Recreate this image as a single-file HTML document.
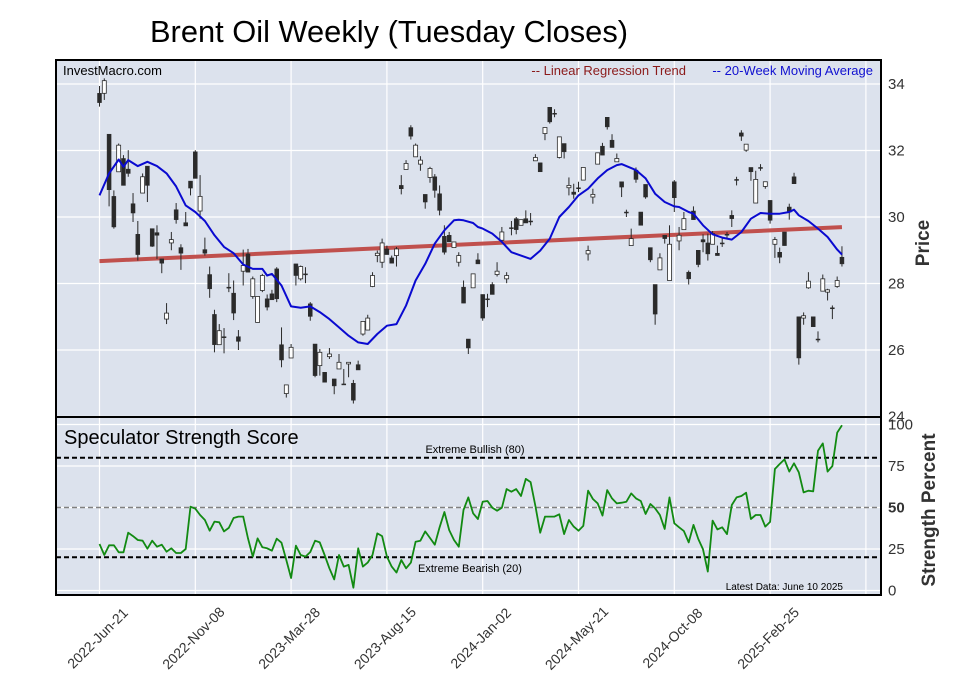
<!DOCTYPE html>
<html><head><meta charset="utf-8"><style>
html,body{margin:0;padding:0;background:#fff;}
svg{display:block;font-family:"Liberation Sans",Arial,sans-serif;}
</style></head><body>
<svg id="chart" width="957" height="694" viewBox="0 0 957 694" xmlns="http://www.w3.org/2000/svg">
<text x="389" y="42" font-size="31" text-anchor="middle" textLength="478" lengthAdjust="spacingAndGlyphs" fill="#000">Brent Oil Weekly (Tuesday Closes)</text>
<rect x="56" y="60" width="825" height="357" fill="#dce2ed"/>
<rect x="56" y="417" width="825" height="178" fill="#dce2ed"/>
<g id="grid"></g>
<g id="price"></g>
<g id="strength"></g>
<g id="axes"></g>
<text x="63" y="75" font-size="13" fill="#000">InvestMacro.com</text>
<text x="686" y="75" font-size="13" fill="#8b1a1a" text-anchor="end">-- Linear Regression Trend</text>
<text x="873" y="75" font-size="13" fill="#1010d0" text-anchor="end">-- 20-Week Moving Average</text>
<text x="64" y="444" font-size="20" fill="#000">Speculator Strength Score</text>
<text x="475" y="453" font-size="11" text-anchor="middle" fill="#000">Extreme Bullish (80)</text>
<text x="470" y="572" font-size="11" text-anchor="middle" fill="#000">Extreme Bearish (20)</text>
<text x="843" y="590" font-size="10" text-anchor="end" fill="#000">Latest Data: June 10 2025</text>
<text transform="translate(929,243) rotate(-90)" font-size="19" font-weight="bold" text-anchor="middle" fill="#333">Price</text>
<text transform="translate(935,510) rotate(-90)" font-size="19" font-weight="bold" text-anchor="middle" fill="#333">Strength Percent</text>
</svg>
<script>
const opens=[33.72,33.72,32.49,30.62,31.36,31.76,31.44,30.40,29.48,30.72,31.53,29.65,29.53,28.74,26.93,29.22,30.22,29.08,29.83,31.08,31.96,30.18,
29.02,28.27,27.07,26.16,26.40,27.89,27.71,26.40,28.37,28.89,27.61,26.83,27.79,27.54,
27.69,28.44,26.16,24.69,25.76,28.59,28.14,28.29,27.39,26.18,25.53,25.33,25.80,25.13,25.43,24.98,25.58,25.00,25.56,26.48,26.60,27.91,28.84,28.64,29.04,28.77,28.84,30.95,31.43,32.69,31.81,31.59,30.68,31.19,31.21,30.70,29.42,29.45,29.08,28.64,27.89,26.33,27.87,28.71,
27.67,27.54,27.97,28.27,29.30,28.14,29.68,29.95,29.75,29.95,29.88,31.69,31.63,32.51,33.30,33.12,31.79,32.21,30.88,30.75,30.88,31.11,28.89,30.60,31.59,32.13,33.00,32.31,31.66,31.06,30.15,29.14,31.41,30.15,30.98,29.08,27.97,28.41,29.45,28.09,31.06,29.28,29.62,28.34,
30.18,29.00,29.32,29.22,29.18,28.91,29.22,29.48,30.05,31.13,32.53,32.01,31.49,30.42,31.49,30.92,30.50,29.18,28.94,29.55,30.30,31.21,27.00,26.96,27.87,27.00,26.33,27.77,27.74,27.27,27.91,28.79];
const closes=[33.44,34.10,30.82,29.70,32.16,30.95,31.31,30.12,28.87,31.21,30.95,29.12,29.45,28.61,27.11,29.32,29.92,28.91,29.73,30.87,31.16,30.62,
28.91,27.84,26.16,26.58,26.40,27.87,27.11,26.26,28.54,28.34,28.14,27.61,28.24,27.29,
27.51,27.54,25.70,24.95,26.08,28.24,28.51,28.29,27.01,25.23,25.93,25.03,25.88,24.92,25.63,24.98,25.63,24.49,25.40,26.86,26.96,28.24,28.91,29.22,28.87,28.61,29.04,30.85,31.61,32.43,32.16,31.71,30.45,31.46,30.80,30.20,28.94,29.25,29.25,28.84,27.41,26.06,28.29,28.59,
26.96,27.54,27.67,28.37,29.55,28.24,29.68,29.62,29.92,29.82,29.88,31.79,31.36,32.69,32.86,33.12,32.41,31.96,30.95,30.68,30.88,31.49,28.99,30.68,31.93,31.86,32.71,32.09,31.76,30.90,30.15,29.35,31.13,29.75,30.60,28.71,27.08,28.77,29.35,29.18,30.58,29.45,29.95,28.14,
29.92,28.57,29.25,28.89,29.50,28.84,29.22,29.48,29.95,31.13,32.43,32.19,31.36,31.13,31.49,31.06,29.90,29.32,28.79,29.14,30.15,31.00,25.76,27.03,28.07,26.70,26.33,28.14,27.81,27.27,28.09,28.59];
const highs=[33.94,34.17,32.49,30.80,32.21,31.86,32.01,30.72,29.88,31.31,31.53,29.65,29.75,28.74,27.41,29.55,30.42,29.18,30.15,31.08,32.01,31.26,
29.38,28.51,27.21,26.78,26.66,28.31,28.09,26.60,29.02,29.04,28.21,27.61,28.29,27.67,
27.81,28.49,26.68,24.95,26.18,28.59,28.54,28.49,27.44,26.18,26.03,25.33,26.06,25.13,25.88,25.43,25.63,25.10,25.68,26.86,27.06,28.34,28.99,29.35,29.14,28.84,29.10,31.26,31.71,32.76,32.21,31.83,30.68,31.51,31.29,30.95,29.75,29.55,29.25,28.94,28.09,26.33,28.29,28.91,
27.67,27.69,28.04,28.64,29.70,28.34,29.88,30.00,29.92,30.20,30.12,31.89,31.63,32.69,33.30,33.24,32.41,32.21,31.19,31.00,31.06,31.49,29.14,30.85,31.93,32.23,33.00,32.49,31.91,31.06,30.22,29.65,31.49,30.15,30.98,29.08,27.97,28.91,29.45,29.75,31.11,29.70,30.15,28.39,
30.32,29.00,29.48,29.50,29.58,29.14,29.40,29.55,30.20,31.21,32.61,32.19,31.49,31.39,31.59,31.06,30.50,29.40,29.08,29.55,30.40,31.33,27.00,27.13,28.34,27.00,26.56,28.27,27.84,27.34,28.21,29.12];
const lows=[33.32,33.52,30.32,29.65,31.36,30.95,31.21,29.85,28.69,30.72,30.45,29.10,28.74,28.31,26.78,29.00,29.80,28.41,29.73,30.65,31.16,29.95,
28.84,27.57,25.93,26.16,25.90,27.74,26.90,26.00,27.94,28.34,27.54,26.83,27.74,27.19,
27.51,27.44,25.48,24.57,25.76,27.94,28.09,28.01,26.88,25.18,25.23,25.03,25.73,24.67,25.43,24.98,25.18,24.39,25.40,26.43,26.60,27.89,28.64,28.47,28.87,28.61,28.51,30.68,31.43,32.33,31.81,31.39,30.25,31.03,30.58,30.05,28.87,29.25,29.08,28.51,27.41,25.88,27.87,28.59,
26.88,27.29,27.67,28.21,29.22,28.01,29.45,29.48,29.75,29.82,29.75,31.69,31.36,32.31,32.81,33.00,31.76,31.76,30.65,30.55,30.75,31.11,28.69,30.40,31.59,31.86,32.63,32.09,31.66,30.60,30.00,29.14,31.03,29.75,30.55,28.64,26.76,28.41,29.20,28.09,30.15,29.00,29.62,27.97,
29.92,28.49,28.94,28.69,29.18,28.84,29.10,29.35,29.70,30.95,32.29,31.96,31.09,30.42,31.39,30.85,29.80,28.77,28.61,29.14,29.92,31.00,25.56,26.76,27.84,26.70,26.23,27.77,27.49,26.93,27.87,28.51];
const maWeeks=[1,3,5,6,7,9,11,13,15,17,19,21,23,25,27,29,31,33,35,36,37,39,41,43,45,47,49,51,53,55,57,59,61,63,65,67,69,71,73,75,76,77,79,80,81,83,85,87,89,91,93,95,97,99,101,103,105,107,109,110,111,113,115,117,119,121,122,124,125,127,129,131,133,135,137,139,141,143,145,146,147,149,151,153,155,156];
const maValues=[30.65,31.31,31.73,31.51,31.71,31.53,31.66,31.53,31.31,30.92,30.35,30.15,29.88,29.45,29.10,28.91,28.57,28.44,28.44,28.24,28.29,27.94,27.31,27.27,27.31,27.14,26.93,26.68,26.43,26.23,26.18,26.48,26.73,26.78,27.34,28.09,28.59,29.20,29.60,29.90,29.92,29.90,29.82,29.70,29.65,29.50,29.25,28.94,28.84,28.74,28.99,29.35,30.00,30.30,30.65,30.85,31.16,31.41,31.56,31.59,31.53,31.41,31.16,30.70,30.45,30.32,30.30,30.15,30.10,29.75,29.48,29.38,29.32,29.55,29.95,30.12,30.10,30.10,30.15,30.22,30.05,29.88,29.65,29.40,29.02,28.87];
const strength=[28.0,21.4,27.2,27.2,23.0,23.0,34.8,32.8,30.4,30.0,25.2,30.0,26.4,27.6,23.4,25.4,22.6,22.6,25.0,50.5,49.3,45.5,42.5,36.0,41.5,41.1,35.6,37.7,43.7,44.5,44.5,31.4,20.4,31.4,26.0,25.4,24.0,31.2,28.8,18.4,7.5,27.0,21.4,20.4,23.2,30.0,29.0,21.4,13.4,6.7,21.4,14.4,15.4,1.7,25.4,14.4,16.8,21.4,34.4,32.8,20.4,14.4,10.8,18.4,13.4,16.8,29.4,30.0,35.6,31.6,27.6,38.1,47.3,36.4,30.4,26.4,48.5,56.1,46.5,
43.1,53.5,53.9,49.9,48.1,49.9,61.1,59.5,61.1,56.9,67.2,65.3,50.9,34.8,44.5,44.5,44.5,45.9,34.0,42.5,38.5,36.0,38.9,60.1,55.1,52.5,45.1,60.5,55.5,52.5,52.9,53.5,58.5,55.5,53.9,46.1,52.1,49.5,45.5,37.1,56.1,40.5,38.1,35.8,29.0,39.5,31.0,24.8,11.4,42.1,36.8,38.1,34.0,51.5,56.1,56.9,58.9,43.1,45.5,45.5,38.5,41.3,73.2,76.2,79.0,71.6,76.6,71.2,59.1,60.1,59.7,84.2,88.6,71.6,75.0,95.1,99.5];
const xTickWeeks=[1,21,41,61,81,101,121,141];
const xTickLabels=["2022-Jun-21","2022-Nov-08","2023-Mar-28","2023-Aug-15","2024-Jan-02","2024-May-21","2024-Oct-08","2025-Feb-25"];
const priceTicks=[24,26,28,30,32,34];
const strengthTicks=[0,25,50,75,100];

const NS="http://www.w3.org/2000/svg";
function el(parent,tag,attrs){const e=document.createElementNS(NS,tag);for(const k in attrs)e.setAttribute(k,attrs[k]);parent.appendChild(e);return e;}
const X0=56,X1=881,PT=60,PB=417,ST=417,SB=595;
function xw(w){return 99.5+4.79*(w-1);}
function yp(p){return 84+(34-p)*33.25;}
function ys(v){return 590.5-v*1.66;}

const grid=document.getElementById('grid');
for(let w=1;xw(w)<X1;w+=20){
  const l=el(grid,'line',{x1:xw(w),x2:xw(w),y1:PT,y2:SB,stroke:'#fff','stroke-width':1.2});
  
  
}
priceTicks.forEach(p=>{
  const l=el(grid,'line',{x1:X0,x2:X1,y1:yp(p),y2:yp(p),stroke:'#fff','stroke-width':1.2});
  
  
});
strengthTicks.forEach(v=>{
  const l=el(grid,'line',{x1:X0,x2:X1,y1:ys(v),y2:ys(v),stroke:'#fff','stroke-width':1.2});
  
  
});

const pg=document.getElementById('price');
const n=closes.length;let sx=0,sy=0,sxx=0,sxy=0;
for(let i=0;i<n;i++){const x=i+1;sx+=x;sy+=closes[i];sxx+=x*x;sxy+=x*closes[i];}
const slope=(n*sxy-sx*sy)/(n*sxx-sx*sx),icpt=(sy-slope*sx)/n;
const reg=el(pg,'line',{x1:xw(1),y1:yp(icpt+slope),x2:xw(n),y2:yp(icpt+slope*n),stroke:'#c0504d','stroke-width':4});


for(let i=0;i<n;i++){
  const x=xw(i+1),o=opens[i],c=closes[i];
  const g=el(pg,'g',{});
  
  
  el(g,'line',{x1:x,x2:x,y1:yp(highs[i]),y2:yp(lows[i]),stroke:'#2a2a2a','stroke-width':1});
  const top=yp(Math.max(o,c)),bot=yp(Math.min(o,c));
  const up=c>o;
  el(g,'rect',{x:x-2,y:top,width:4,height:Math.max(bot-top,1),fill:up?'#fff':'#2a2a2a',stroke:'#2a2a2a','stroke-width':up?0.8:0.5});
}
let d='';
maWeeks.forEach((w,i)=>{d+=(i?'L':'M')+xw(w).toFixed(1)+' '+yp(maValues[i]).toFixed(1);});
const ma=el(pg,'path',{d:d,fill:'none',stroke:'#0a0ad0','stroke-width':2,'stroke-linejoin':'round'});



const sg=document.getElementById('strength');
const bull=el(sg,'line',{x1:X0,x2:X1,y1:ys(80),y2:ys(80),stroke:'#000','stroke-width':2,'stroke-dasharray':'5,3'});


const bear=el(sg,'line',{x1:X0,x2:X1,y1:ys(20),y2:ys(20),stroke:'#000','stroke-width':2,'stroke-dasharray':'5,3'});


const mid=el(sg,'line',{x1:X0,x2:X1,y1:ys(50),y2:ys(50),stroke:'#808080','stroke-width':1.5,'stroke-dasharray':'5,3'});


let sd='';
strength.forEach((v,i)=>{sd+=(i?'L':'M')+xw(i+1).toFixed(1)+' '+ys(v).toFixed(1);});
const sl=el(sg,'path',{d:sd,fill:'none',stroke:'#128a12','stroke-width':1.8,'stroke-linejoin':'round'});



const ax=document.getElementById('axes');
const f1=el(ax,'rect',{x:X0,y:PT,width:X1-X0,height:PB-PT,fill:'none',stroke:'#000','stroke-width':2});


const f2=el(ax,'rect',{x:X0,y:ST,width:X1-X0,height:SB-ST,fill:'none',stroke:'#000','stroke-width':2});


priceTicks.forEach(p=>{
  const t=el(ax,'text',{x:888,y:yp(p)+5,'font-size':15,fill:'#333'});
  t.textContent=p;
  
  
});
strengthTicks.forEach(v=>{
  const t=el(ax,'text',{x:888,y:ys(v)+5,'font-size':15,fill:'#333'});
  if(v===50)t.setAttribute('font-weight','bold');
  t.textContent=v;
  
  
});
xTickWeeks.forEach((w,i)=>{
  const x=xw(w);
  const t=el(ax,'text',{x:0,y:5,'font-size':14,fill:'#333','text-anchor':'middle',transform:'translate('+(x-2)+',638) rotate(-45)'});
  t.textContent=xTickLabels[i];
  
  
});
</script>
</body></html>
